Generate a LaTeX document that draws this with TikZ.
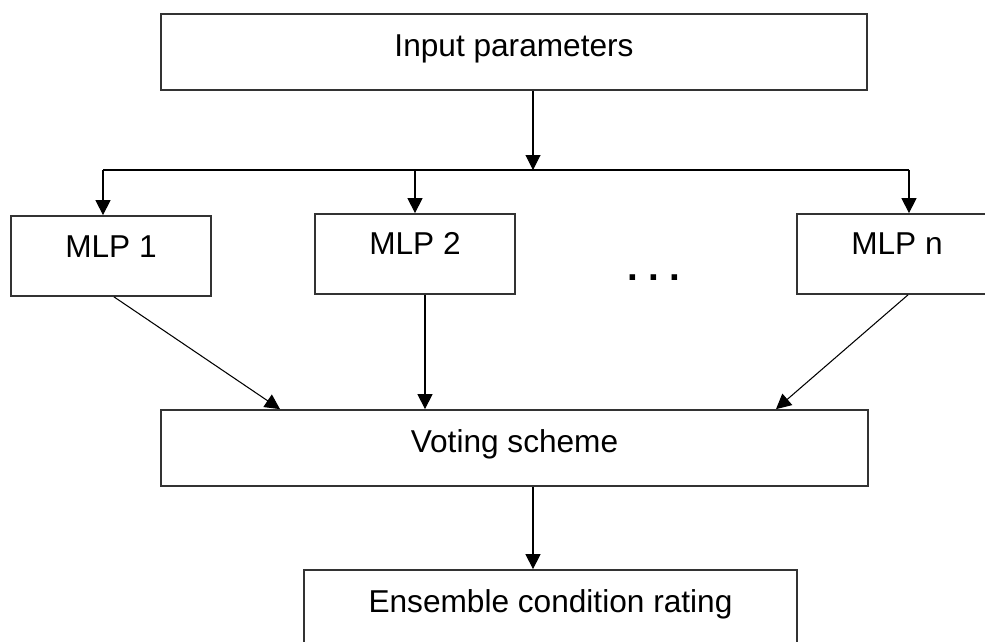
\documentclass[tikz,border=0pt]{standalone}
\usepackage{fontspec}
\setmainfont{Liberation Sans}
\usetikzlibrary{arrows.meta,calc}

\begin{document}
\begin{tikzpicture}[x=0.02cm,y=-0.02cm,
  box/.style={draw=black!80,line width=1pt,inner xsep=0pt,inner ysep=0pt,anchor=base,font=\fontsize{18}{22}\selectfont},
  mlpbox/.style={box,minimum width=4cm,text height=0.82cm,text depth=0.78cm},
  flow/.style={-{Triangle[length=0.3cm,width=0.3cm]},line width=0.6pt},
  link/.style={line width=0.6pt}]
\useasboundingbox (0,0) rectangle (985,642);
\node[box,minimum width=14.12cm,text height=0.86cm,text depth=0.66cm] (input) at (514,57) {Input parameters};
\node[mlpbox] (mlp1) at (111,257) {MLP 1};
\node[mlpbox] (mlp2) at (415,255) {MLP 2};
\node[mlpbox] (mlpn) at (897,255) {MLP n};
\node[anchor=base,inner sep=0pt,font=\fontsize{22}{24}\selectfont\bfseries] (dots) at (654,280) {.\hspace{0.26em}.\hspace{0.26em}.};
\node[box,minimum width=14.14cm,text height=0.84cm,text depth=0.68cm] (vote) at (514.5,452) {Voting scheme};
\node[box,minimum width=9.86cm,text height=0.84cm,text depth=0.68cm] (ens) at (550.5,612) {Ensemble condition rating};
\coordinate (split) at (533,170);
\coordinate (b1) at (103,170);
\coordinate (bn) at (909,170);
\draw[flow] (input.south -| split) -- (split);
\draw[link] (b1) -- (bn);
\draw[flow] (b1) -- (b1 |- mlp1.north);
\draw[flow] (split -| mlp2.north) -- (mlp2.north);
\draw[flow] (bn) -- (bn |- mlpn.north);
\draw[flow] ($(mlp1.south)+(3,0)$) -- ($(vote.north)+(-234.5,0)$);
\draw[flow] ($(mlp2.south)+(10,0)$) -- ($(vote.north)+(-89.5,0)$);
\draw[flow] ($(mlpn.south)+(11,0)$) -- ($(vote.north)+(261.5,0)$);
\draw[flow] (vote.south -| split) -- (split |- ens.north);
\end{tikzpicture}
\end{document}
